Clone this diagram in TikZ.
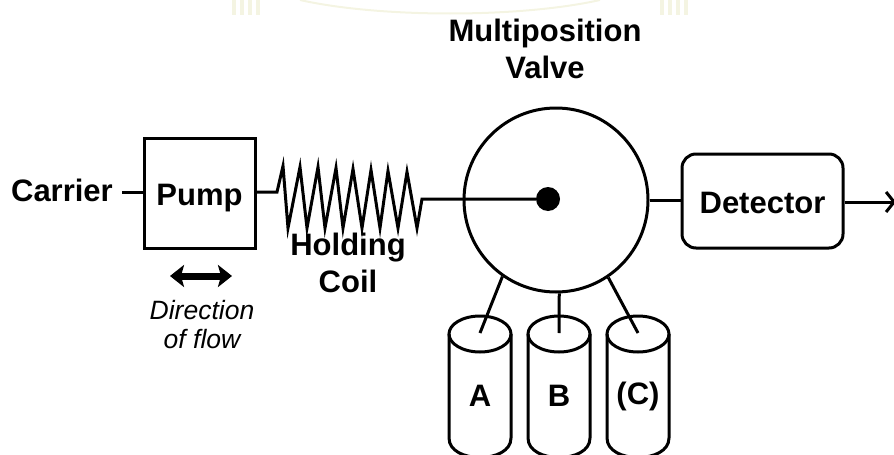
\documentclass[tikz,border=0pt]{standalone}
\usepackage{fontspec}
\setmainfont{Liberation Sans}
\usetikzlibrary{arrows.meta}
\definecolor{WashTint}{HTML}{F4F4E2}
\tikzset{
  pipe/.style={line width=3pt,line join=miter},
  boldLabel/.style={font=\fontsize{31}{37}\selectfont\bfseries,inner sep=0pt,align=center},
  noteLabel/.style={font=\fontsize{26.5}{29}\selectfont\itshape,inner sep=0pt,align=center},
}

\begin{document}
\begin{tikzpicture}[x=1pt,y=-1pt]
  \clip (0,0) rectangle (894,455);
  \foreach \x in {232,240,248,256,660,668,676,684} {
    \fill[WashTint] (\x,0) rectangle ++(4,15);
  }
  \draw[WashTint,line width=2pt] (300,0) .. controls (380,18) and (520,18) .. (600,0);
  \node[boldLabel] (title) at (545,49) {Multiposition\\Valve};
  \node[boldLabel,anchor=east] (carrier) at (113,190) {Carrier};
  \node[draw,line width=3pt,minimum width=111pt,minimum height=110pt,boldLabel,text height=24pt,text depth=0pt] (pump) at (199.5,193) {Pump};
  \node[boldLabel] (coilLabel) at (348,263) {Holding\\Coil};
  \node[noteLabel] (flowLabel) at (202,325) {Direction\\of flow};
  \node[draw,circle,line width=3pt,minimum size=184pt,inner sep=0pt] (valve) at (556,200) {};
  \node[circle,fill=black,minimum size=24pt,inner sep=0pt] (hub) at (548,199) {};
  \node[draw,line width=3pt,rounded corners=14pt,minimum width=161pt,minimum height=94pt,boldLabel,text height=24pt,text depth=0pt] (detector) at (762.5,201) {Detector};
  \coordinate (carrierEnd) at (122,192);
  \coordinate (coilIn) at (277,192);
  \coordinate (coilOut) at (422,199);
  \coordinate (flowL) at (170,276);
  \coordinate (flowR) at (232,276);
  \coordinate (outEnd) at (896,202);
  \draw[pipe] (carrierEnd) -- (pump.west|-carrierEnd);
  \draw[pipe] (pump.east|-coilIn) -- (coilIn)
    \foreach \u/\v/\w in {283/288/166,300/307/167,318/325/167,336/343/168,353/362/169,371/380/170,388/398/171,407/417/172} {
      -- (\u,\w) -- (\v,228)
    } -- (coilOut) -- (hub);
  \draw[line width=7pt,{Stealth[length=14pt,width=22pt,inset=3pt]}-{Stealth[length=14pt,width=22pt,inset=3pt]}] (flowL) -- (flowR);
  \draw[pipe] (valve.east) -- (detector.west|-valve.east);
  \draw[pipe,-{Straight Barb[length=8pt,width=20pt]}] (detector.east|-outEnd) -- (outEnd);
  \foreach \c/\x/\t/\a in {A/480/A/235,B/559/B/272,C/638/(C)/304} {
    \draw[pipe] (\x,334) ellipse[x radius=31,y radius=18];
    \draw[pipe] ({\x-31},334) -- ({\x-31},438) .. controls ({\x-31},464) and ({\x+31},464) .. ({\x+31},438) -- ({\x+31},334);
    \node[boldLabel] (label\c) at (\x,396) {\t};
    \coordinate (port\c) at (\x,333);
    \draw[pipe] (valve.\a) -- (port\c);
  }
\end{tikzpicture}
\end{document}
